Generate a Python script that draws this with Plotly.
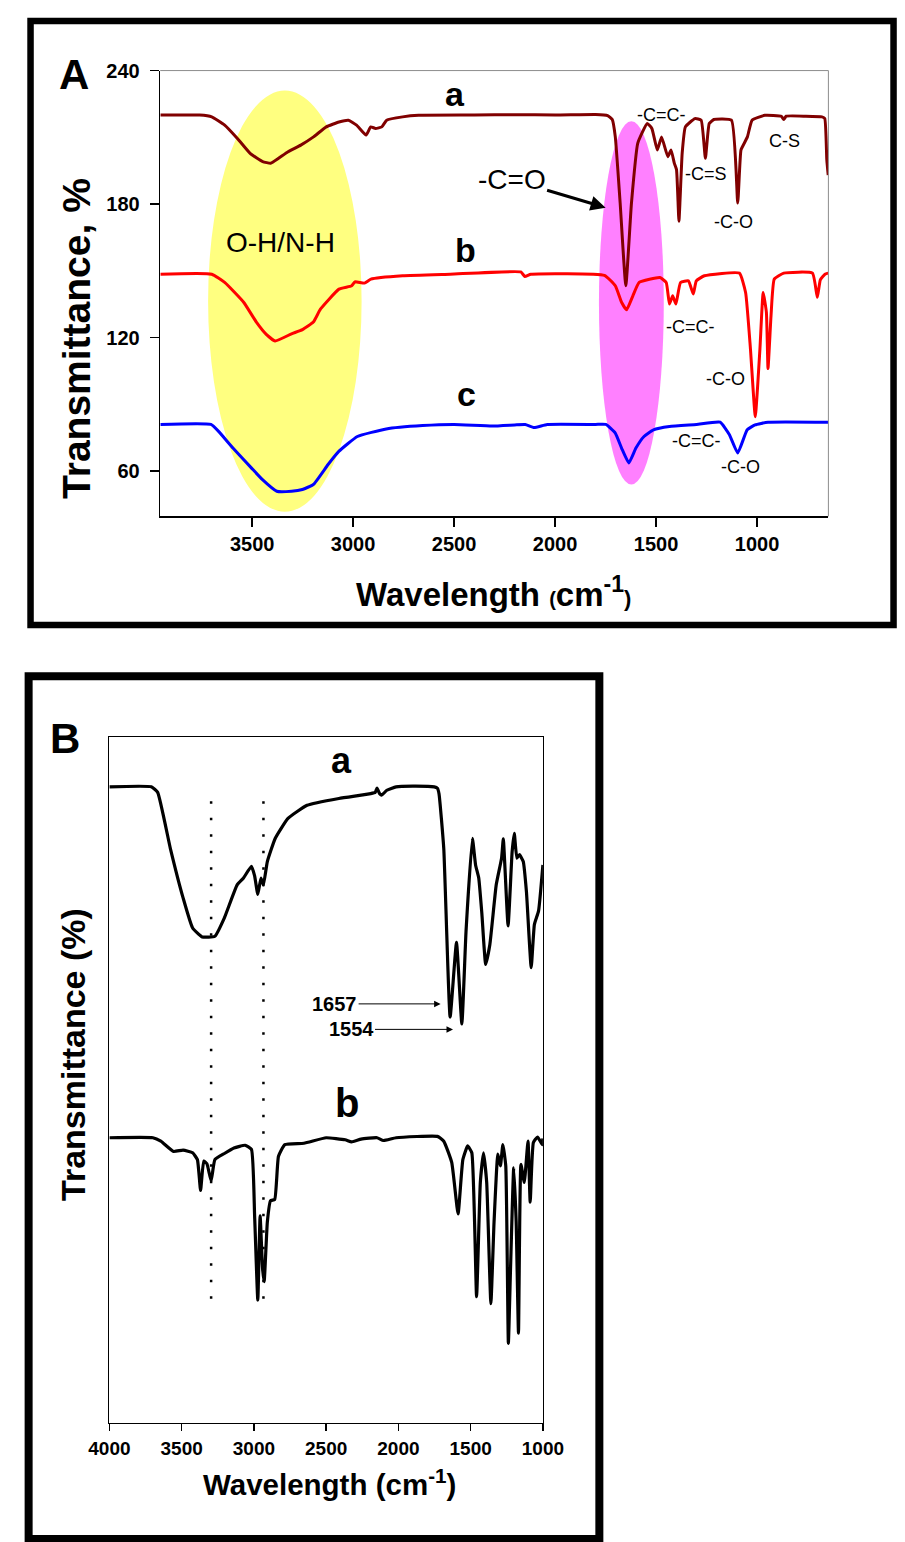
import plotly.graph_objects as go

W, H = 905, 1542
FONT = "Liberation Sans, Arial, Helvetica, sans-serif"

# ---------------- Panel A data (wavenumber cm-1, transmittance %) ----------------
a_wn = [3954, 3760, 3700, 3636, 3573, 3510, 3448, 3408, 3369, 3322, 3259, 3196, 3133, 3070,
        3023, 2983, 2936, 2913, 2889, 2858, 2834, 2755, 2676, 2400, 2200, 2000, 1800, 1740,
        1717, 1702, 1678, 1650, 1622, 1591, 1544, 1521, 1494, 1473, 1442, 1426, 1410, 1399,
        1387, 1371, 1355, 1308, 1277, 1256, 1237, 1214, 1127, 1096, 1080, 1064, 1048, 1025,
        962, 880, 868, 856, 760, 679, 665, 655, 648]
a_tr = [220.0, 220.0, 219.2, 215.5, 209.5, 202.8, 199.1, 198.4, 200.6, 203.5, 206.5, 210.2, 214.7, 216.9,
        217.7, 215.5, 211.0, 214.7, 214.0, 214.7, 217.7, 219.2, 219.9, 220.0, 220.2, 220.0, 220.3, 219.8,
        218.0, 210.2, 180.5, 143.3, 180.5, 207.3, 216.2, 214.0, 204.3, 210.2, 201.3, 204.3, 198.4, 195.5,
        172.3, 202.8, 214.7, 218.4, 217.7, 200.6, 216.2, 218.0, 217.7, 180.5, 204.3, 207.3, 210.2, 217.7,
        219.9, 219.5, 218.0, 219.5, 219.5, 219.2, 218.5, 200.0, 193.0]

b_wn = [3954, 3700, 3636, 3542, 3479, 3430, 3386, 3305, 3251, 3197, 3161, 3070, 3007, 2991,
        2944, 2912, 2755, 2520, 2170, 2150, 2120, 1756, 1702, 1671, 1646, 1615, 1584, 1481,
        1450, 1434, 1418, 1402, 1379, 1340, 1316, 1301, 1261, 1088, 1057, 1033, 1009, 986,
        970, 954, 946, 931, 915, 868, 726, 702, 687, 664, 648]
b_tr = [148.5, 148.5, 144.8, 135.9, 127.0, 121.5, 118.5, 121.7, 123.6, 127.0, 132.9, 141.8, 143.3, 145.1,
        144.5, 146.3, 147.8, 148.5, 149.5, 147.5, 148.5, 148.0, 143.3, 135.9, 132.5, 138.8, 144.8, 147.0,
        144.8, 135.1, 138.8, 135.1, 144.8, 145.5, 139.6, 145.5, 147.8, 149.0, 140.3, 115.0, 84.5, 115.0,
        140.3, 131.4, 106.1, 130.0, 146.3, 149.0, 149.0, 138.1, 146.0, 148.5, 149.0]

c_wn = [3954, 3704, 3666, 3595, 3504, 3450, 3378, 3305, 3251, 3197, 3124, 3071, 2979, 2836,
        2656, 2500, 2312, 2200, 2148, 2104, 2039, 1800, 1749, 1702, 1671, 1635, 1600, 1560,
        1513, 1434, 1300, 1183, 1137, 1096, 1049, 1010, 946, 648]
c_tr = [81.0, 81.0, 77.9, 70.4, 61.5, 56.3, 51.0, 51.0, 51.8, 54.0, 63.0, 68.9, 75.6, 79.0,
        80.5, 81.0, 80.3, 80.8, 81.0, 79.6, 81.0, 81.0, 81.0, 77.1, 70.4, 63.7, 70.4, 75.6,
        78.6, 80.1, 81.0, 82.0, 76.4, 68.2, 78.6, 80.8, 82.0, 82.0]

A_XTICKS = [3500, 3000, 2500, 2000, 1500, 1000]
A_YTICKS = [60, 120, 180, 240]

# ---------------- Panel B data (wavenumber cm-1, relative transmittance) ----------------
Ba_wn = [4000, 3710, 3666, 3578, 3490, 3424, 3358, 3270, 3204, 3116, 3072, 3017, 2995, 2973,
         2951, 2934, 2907, 2852, 2764, 2632, 2412, 2192, 2160, 2148, 2130, 2115, 2080, 2016,
         1900, 1752, 1730, 1719, 1686, 1642, 1598, 1561, 1532, 1488, 1466, 1444, 1422, 1396,
         1367, 1323, 1286, 1274, 1241, 1213, 1198, 1180, 1162, 1136, 1114, 1081, 1059, 1030, 1000]
Ba_tr = [92.8, 92.8, 92.0, 83.8, 76.6, 72.2, 70.9, 71.0, 73.7, 78.5, 79.5, 81.2, 79.8, 77.1,
         79.5, 78.5, 81.9, 85.3, 88.2, 90.1, 91.1, 91.8, 92.0, 92.6, 91.8, 91.6, 92.3, 92.8,
         92.9, 92.8, 92.6, 91.8, 83.8, 59.2, 70.1, 58.2, 71.7, 85.3, 81.4, 79.5, 74.2, 66.9,
         69.8, 78.5, 82.4, 85.2, 72.5, 83.3, 86.0, 82.4, 82.9, 81.9, 77.5, 66.4, 72.7, 74.7, 81.4]

Bb_wn = [4000, 3699, 3644, 3556, 3490, 3424, 3391, 3369, 3347, 3325, 3296, 3270, 3204, 3138,
         3061, 3017, 2995, 2973, 2957, 2940, 2929, 2907, 2885, 2856, 2830, 2786, 2654, 2500,
         2368, 2324, 2258, 2148, 2104, 2016, 1730, 1686, 1631, 1587, 1554, 1521, 1492, 1459,
         1433, 1411, 1389, 1360, 1338, 1312, 1294, 1277, 1257, 1239, 1224, 1202, 1185, 1169,
         1152, 1129, 1103, 1088, 1066, 1037, 1004, 1000]
Bb_tr = [41.6, 41.6, 41.1, 39.6, 39.8, 39.4, 38.4, 33.9, 38.2, 37.8, 35.3, 38.4, 39.3, 40.1,
         40.5, 39.9, 30.2, 17.9, 30.2, 22.5, 20.6, 29.3, 32.4, 32.6, 38.9, 40.6, 40.8, 41.6,
         41.3, 41.0, 41.4, 41.6, 41.2, 41.6, 41.8, 41.1, 38.0, 30.5, 38.4, 40.4, 39.4, 18.4,
         35.1, 39.4, 35.1, 17.4, 29.3, 39.2, 37.5, 40.6, 37.5, 11.6, 22.5, 37.2, 29.3, 13.1,
         37.7, 35.1, 41.1, 32.2, 40.9, 41.7, 40.6, 41.5]

B_XTICKS = [4000, 3500, 3000, 2500, 2000, 1500, 1000]
B_DOTTED = [3296, 2934]

assert len(a_wn) == len(a_tr) and len(b_wn) == len(b_tr) and len(c_wn) == len(c_tr)
assert len(Ba_wn) == len(Ba_tr) and len(Bb_wn) == len(Bb_tr)


def fx(p):
    return p / W


def fy(p):
    return 1 - p / H


fig = go.Figure()

for xs, ys, col in [(a_wn, a_tr, "rgb(128,0,0)"), (b_wn, b_tr, "rgb(255,0,0)"), (c_wn, c_tr, "rgb(0,0,255)")]:
    fig.add_trace(go.Scatter(x=xs, y=ys, mode="lines", xaxis="x", yaxis="y",
                             line=dict(color=col, width=3, shape="spline", smoothing=0.4),
                             showlegend=False, hoverinfo="skip"))

for xs, ys in [(Ba_wn, Ba_tr), (Bb_wn, Bb_tr)]:
    fig.add_trace(go.Scatter(x=xs, y=ys, mode="lines", xaxis="x2", yaxis="y2",
                             line=dict(color="black", width=3.2, shape="spline", smoothing=0.4),
                             showlegend=False, hoverinfo="skip"))

tickfontA = dict(family=FONT, size=20, color="black", weight="bold")
tickfontB = dict(family=FONT, size=19, color="black", weight="bold")

fig.update_layout(
    width=W, height=H, margin=dict(l=0, r=0, t=0, b=0),
    paper_bgcolor="white", plot_bgcolor="rgba(0,0,0,0)",
    xaxis=dict(domain=[fx(146), fx(846.7)], range=[3955, 647], anchor="y",
               showline=True, linecolor="black", linewidth=1.5, mirror=False,
               ticks="outside", ticklen=9, tickwidth=1.5, tickcolor="black",
               tickvals=A_XTICKS, tickfont=tickfontA, ticklabelstandoff=0,
               showgrid=False, zeroline=False),
    yaxis=dict(domain=[fy(509), fy(60)], range=[39.7, 240], anchor="x",
               showline=True, linecolor="black", linewidth=1.5,
               ticks="outside", ticklen=9, tickwidth=1.5, tickcolor="black",
               tickvals=A_YTICKS, tickfont=tickfontA, ticklabelstandoff=6,
               showgrid=False, zeroline=False),
    xaxis2=dict(domain=[fx(92.7), fx(547.3)], range=[4000, 1000], anchor="y2",
                showline=True, linecolor="black", linewidth=1.5, mirror=True,
                ticks="outside", ticklen=7, tickwidth=1.5, tickcolor="black",
                tickvals=B_XTICKS, tickfont=tickfontB, ticklabelstandoff=1,
                showgrid=False, zeroline=False),
    yaxis2=dict(domain=[fy(1422), fy(731.7)], range=[0, 100], anchor="x2",
                showline=True, linecolor="black", linewidth=1.5, mirror=True,
                ticks="", showticklabels=False, showgrid=False, zeroline=False),
)

shapes = []
# highlight ellipses (data coordinates of panel A)
shapes.append(dict(type="circle", xref="x", yref="y", x0=3718, x1=2958, y0=41.8, y1=231,
                   fillcolor="rgb(255,255,128)", line=dict(width=0), layer="below"))
shapes.append(dict(type="circle", xref="x", yref="y", x0=1783, x1=1462, y0=54, y1=217.2,
                   fillcolor="rgb(255,128,255)", line=dict(width=0), layer="below"))
# thin grey top/right frame of panel A plot area
shapes.append(dict(type="line", xref="x domain", yref="y domain", x0=0, x1=1, y0=1, y1=1,
                   line=dict(color="rgb(140,140,140)", width=1)))
shapes.append(dict(type="line", xref="x domain", yref="y domain", x0=1, x1=1, y0=0, y1=1,
                   line=dict(color="rgb(140,140,140)", width=1)))
# dotted guide lines in panel B
for wv in B_DOTTED:
    shapes.append(dict(type="line", xref="x2", yref="y2", x0=wv, x1=wv, y0=18.1, y1=91.5,
                       line=dict(color="black", width=2.5, dash="2.5px,14px")))
# thick outer frames
shapes.append(dict(type="rect", xref="paper", yref="paper", x0=fx(10), x1=fx(915), y0=fy(10), y1=fy(618.5),
                   line=dict(color="black", width=6.5), fillcolor="rgba(0,0,0,0)"))
shapes.append(dict(type="rect", xref="paper", yref="paper", x0=fx(8), x1=fx(606.5), y0=fy(670), y1=fy(1539),
                   line=dict(color="black", width=8), fillcolor="rgba(0,0,0,0)"))
fig.update_layout(shapes=shapes)

ann = []


def txt(x, y, s, size, bold=True, angle=0, xanchor="center"):
    ann.append(dict(x=fx(x), y=fy(y), xref="paper", yref="paper", text=("<b>%s</b>" % s) if bold else s,
                    showarrow=False, textangle=angle, xanchor=xanchor, yanchor="middle",
                    font=dict(family=FONT, size=size, color="black")))


# Panel A texts
txt(56, 64, "A", 42)
txt(455, 84, "a", 34)
txt(466, 241, "b", 34)
txt(467, 386, "c", 34)
txt(272, 233, "O-H/N-H", 28, bold=False)
txt(672, 105, "-C=C-", 18, bold=False)
txt(718, 164, "-C=S", 18, bold=False)
txt(747, 213, "-C-O", 18, bold=False)
txt(801, 131, "C-S", 18, bold=False)
txt(702, 318, "-C=C-", 18, bold=False)
txt(739, 371, "-C-O", 18, bold=False)
txt(708, 433, "-C=C-", 18, bold=False)
txt(755, 459, "-C-O", 18, bold=False)
txt(58, 330, "Transmittance, %", 39, angle=-90)
txt(496, 585, "Wavelength <span style='font-size:20px'>(</span>cm<sup>-1</sup><span style='font-size:22px'>)</span>", 33)

# arrow to C=O band
ann.append(dict(x=1750, y=178.4, xref="x", yref="y", ax=-94, ay=-28, text="-C=O",
                showarrow=True, arrowhead=2, arrowsize=1, arrowwidth=3, arrowcolor="black",
                font=dict(family=FONT, size=28, color="black")))

# Panel B texts
txt(46, 733, "B", 42)
txt(336, 755, "a", 36)
txt(342, 1100, "b", 40)
txt(54, 1051, "Transmittance (%)", 34, angle=-90)
txt(323, 1482, "Wavelength (cm<sup>-1</sup>)", 29.5)

ann.append(dict(x=1708, y=61.13, xref="x2", yref="y2", ax=-106, ay=0, text="<b>1657</b>",
                showarrow=True, arrowhead=2, arrowsize=1.3, arrowwidth=1, arrowcolor="black",
                font=dict(family=FONT, size=20, color="black")))
ann.append(dict(x=1622, y=57.41, xref="x2", yref="y2", ax=-102, ay=0, text="<b>1554</b>",
                showarrow=True, arrowhead=2, arrowsize=1.3, arrowwidth=1, arrowcolor="black",
                font=dict(family=FONT, size=20, color="black")))

fig.update_layout(annotations=ann)

fig.write_html("out.html",
               config={"displayModeBar": False, "staticPlot": True},
               post_script="document.body.style.margin='0';document.body.style.overflow='hidden';")
